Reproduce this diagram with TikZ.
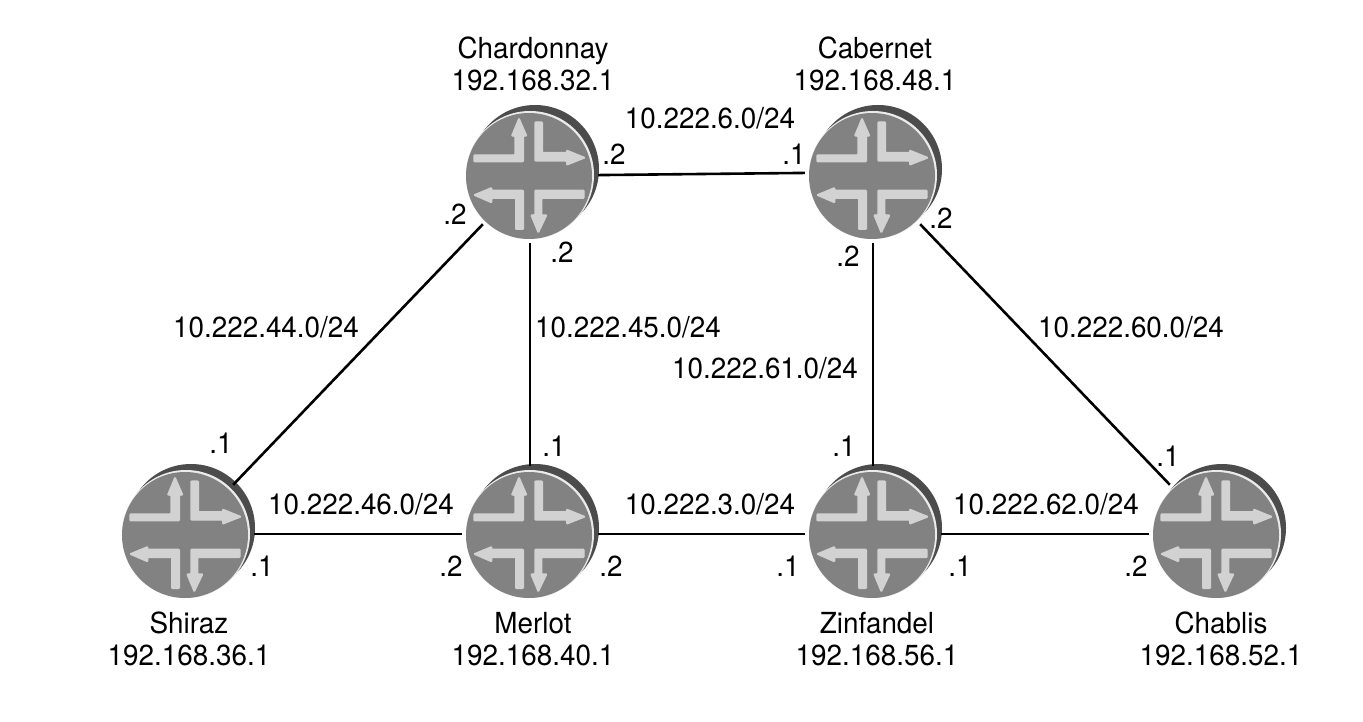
\documentclass[tikz,border=0pt]{standalone}
\usepackage{fontspec}
\setmainfont[FakeStretch=0.96]{TeX Gyre Heros}
\newcommand{\routerglyph}{%
  \begin{scope}[shift={(path picture bounding box.center)}]
    \fill[black!70] (5,-6) circle (64);
    \fill[white!92!black] (0,0) circle (64);
    \fill[routergray] (-1,1) circle (63);
    \foreach \dd/\wd/\col in {0.9/1.2pt/black!50,0/1.4pt/arrowlight}{
    \begin{scope}[shift={(\dd,\dd)}]
    \filldraw[fill=\col,draw=\col,line width=\wd,rounded corners=0.8] (-56,-20) -- (-15,-20) -- (-15,-39) -- (-18.3,-39) -- (-11,-56.7) -- (-3.3,-39) -- (-6.7,-39) -- (-6.7,-13.3) -- (-56,-13.3) -- cycle;
    \filldraw[fill=\col,draw=\col,line width=\wd,rounded corners=0.8] (5,-53) -- (12.3,-53) -- (12.3,-22.3) -- (36.7,-22.3) -- (36.7,-24.7) -- (55,-17.3) -- (36.7,-10) -- (36.7,-14) -- (5,-14) -- cycle;
    \filldraw[fill=\col,draw=\col,line width=\wd,rounded corners=0.8] (-56,20) -- (-38.3,12.7) -- (-38.3,15.3) -- (-6.7,15.3) -- (-6.7,54.3) -- (-14.3,54.3) -- (-14.3,23.3) -- (-38.3,23.3) -- (-38.3,27.7) -- cycle;
    \filldraw[fill=\col,draw=\col,line width=\wd,rounded corners=0.8] (54,15.3) -- (5,15.3) -- (5,40) -- (1,40) -- (8.3,57.7) -- (16.7,40) -- (11.7,40) -- (11.7,23.3) -- (54,23.3) -- cycle;
    \end{scope}}
  \end{scope}}
\definecolor{routergray}{HTML}{828282}
\definecolor{arrowlight}{HTML}{D2D2D2}
\tikzset{
  router/.style={circle,minimum size=150pt,inner sep=0pt,path picture={\routerglyph}},
  link/.style={line width=2.6pt,black,shorten <=-7pt,shorten >=-7pt},
  lbl/.style={inner sep=0pt,font=\fontsize{29}{32}\selectfont,align=center,text=black}
}
\begin{document}
\begin{tikzpicture}[x=1pt,y=-1pt]
\useasboundingbox (0,0) rectangle (1363,722);
\fill[white] (0,0) rectangle (1363,722);
\node[router] (chardonnay) at (530,175) {};
\node[router] (cabernet) at (873,175) {};
\node[router] (shiraz) at (186,534) {};
\node[router] (merlot) at (530,534) {};
\node[router] (zinfandel) at (873,534) {};
\node[router] (chablis) at (1217,534) {};
\draw[link] (chardonnay.east) -- ([yshift=2pt]cabernet.west);
\draw[link] (chardonnay) -- (merlot);
\draw[link] (chardonnay) -- (shiraz);
\draw[link] (cabernet) -- (zinfandel);
\draw[link] (cabernet) -- (chablis);
\draw[link] (shiraz) -- (merlot);
\draw[link] (merlot) -- (zinfandel);
\draw[link] (zinfandel) -- (chablis);
\node[lbl] (tchard) at (533,64) {Chardonnay\\192.168.32.1};
\node[lbl] (tcab) at (875,64) {Cabernet\\192.168.48.1};
\node[lbl] (tshi) at (189,639) {Shiraz\\192.168.36.1};
\node[lbl] (tmer) at (533,639) {Merlot\\192.168.40.1};
\node[lbl] (tzin) at (877,639) {Zinfandel\\192.168.56.1};
\node[lbl] (tcha) at (1221,639) {Chablis\\192.168.52.1};
\node[lbl] (n1) at (710,118) {10.222.6.0/24};
\node[lbl] (n2) at (266,327) {10.222.44.0/24};
\node[lbl] (n3) at (628,327) {10.222.45.0/24};
\node[lbl] (n4) at (1131,327) {10.222.60.0/24};
\node[lbl] (n5) at (765,368) {10.222.61.0/24};
\node[lbl] (n6) at (361,504) {10.222.46.0/24};
\node[lbl] (n7) at (710,504) {10.222.3.0/24};
\node[lbl] (n8) at (1046,504) {10.222.62.0/24};
\node[lbl] (a1) at (614,154) {.2};
\node[lbl] (a2) at (794,154) {.1};
\node[lbl] (a3) at (455,214) {.2};
\node[lbl] (a4) at (562,252) {.2};
\node[lbl] (a5) at (941,218) {.2};
\node[lbl] (a6) at (848,256) {.2};
\node[lbl] (a7) at (221,443) {.1};
\node[lbl] (a8) at (554,446) {.1};
\node[lbl] (a9) at (844,446) {.1};
\node[lbl] (a10) at (1168,456) {.1};
\node[lbl] (a11) at (262,566) {.1};
\node[lbl] (a12) at (451,566) {.2};
\node[lbl] (a13) at (611,566) {.2};
\node[lbl] (a14) at (788,566) {.1};
\node[lbl] (a15) at (960,566) {.1};
\node[lbl] (a16) at (1136,566) {.2};
\end{tikzpicture}
\end{document}
